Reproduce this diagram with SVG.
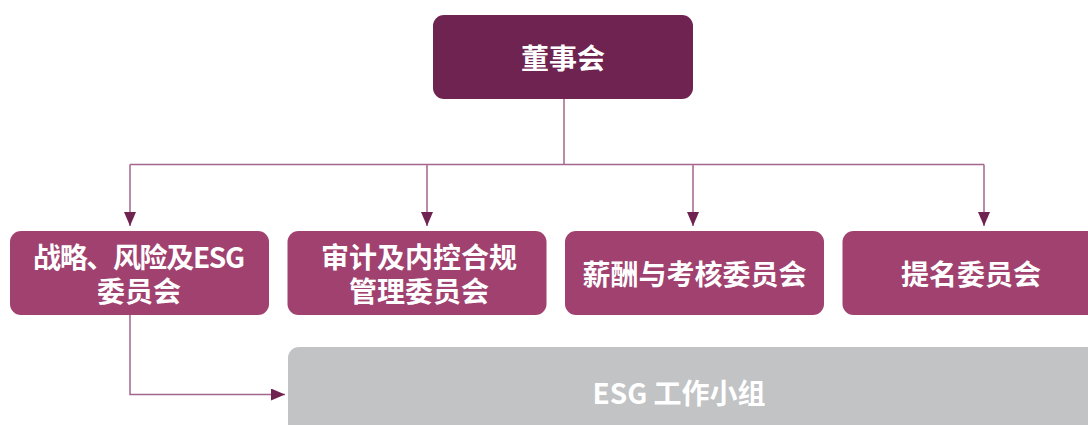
<svg xmlns="http://www.w3.org/2000/svg" width="1088" height="425" viewBox="0 0 1088 425">
<defs>
<style>
.t{font-family:"Noto Sans CJK SC","Noto Sans",sans-serif;font-weight:bold;font-size:28px;fill:#ffffff;text-anchor:middle;dominant-baseline:central}
.top{fill:#6f2350}
.com{fill:#a0416f}
.grey{fill:#c2c3c5}
.ln{fill:none;stroke:#a5668e;stroke-width:1.5}
</style>
<marker id="ah" viewBox="0 0 14 12" refX="14" refY="6" markerWidth="14" markerHeight="12" markerUnits="userSpaceOnUse" orient="auto">
<path d="M0,0 L14,6 L0,12 Z" fill="#6f2350"/>
</marker>
</defs>
<g id="connectors">
<path class="ln" d="M564,99 V164.5"/>
<path class="ln" d="M130,164.5 H984"/>
<path class="ln" d="M130,164.5 V226" marker-end="url(#ah)"/>
<path class="ln" d="M427,164.5 V226" marker-end="url(#ah)"/>
<path class="ln" d="M693,164.5 V226" marker-end="url(#ah)"/>
<path class="ln" d="M984,164.5 V226" marker-end="url(#ah)"/>
<path class="ln" d="M130,315 V394.5 H285" marker-end="url(#ah)"/>
</g>
<g id="board">
<rect class="top" x="433" y="15" width="260" height="84" rx="11"/>
<text class="t" x="563" y="57">董事会</text>
</g>
<g id="strategy">
<rect class="com" x="10" y="231" width="259" height="84" rx="11"/>
<text class="t"><tspan x="139" y="256" textLength="212" lengthAdjust="spacing">战略、风险及ESG</tspan><tspan x="139" y="290">委员会</tspan></text>
</g>
<g id="audit">
<rect class="com" x="287.5" y="231" width="259" height="84" rx="11"/>
<text class="t"><tspan x="419" y="256">审计及内控合规</tspan><tspan x="419" y="290">管理委员会</tspan></text>
</g>
<g id="remuneration">
<rect class="com" x="565" y="231" width="259" height="84" rx="11"/>
<text class="t" x="694.5" y="273">薪酬与考核委员会</text>
</g>
<g id="nomination">
<rect class="com" x="842.5" y="231" width="259" height="84" rx="11"/>
<text class="t" x="971" y="273">提名委员会</text>
</g>
<g id="esg-group">
<rect class="grey" x="288" y="347" width="830" height="100" rx="11"/>
<text class="t" x="679" y="392">ESG 工作小组</text>
</g>
</svg>
